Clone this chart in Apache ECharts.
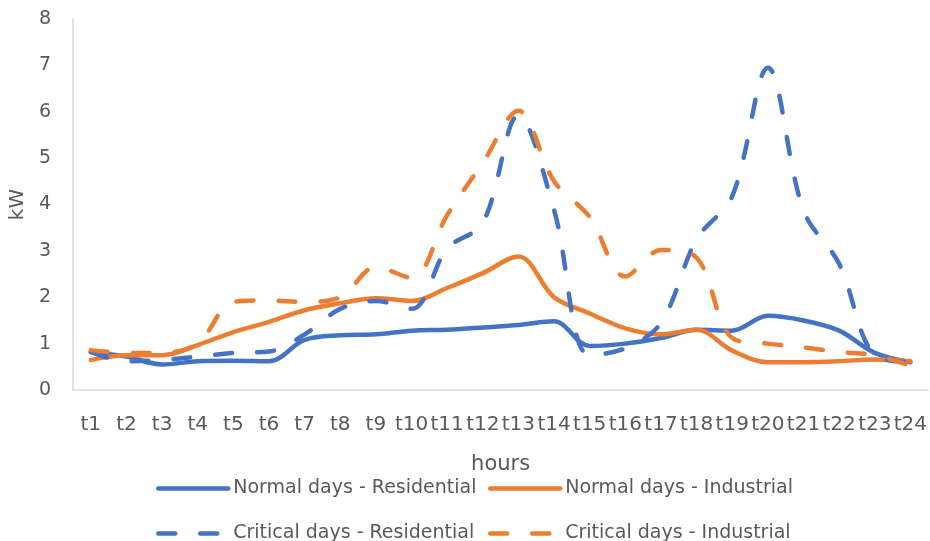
<!DOCTYPE html>
<html>
<head>
<meta charset="utf-8">
<script src="https://cdn.jsdelivr.net/npm/echarts@6/dist/echarts.min.js"></script>
<style>
html,body{margin:0;padding:0;background:#fff;}
#chart{width:930px;height:541px;}
</style>
</head>
<body>
<div id="chart"></div>
<script>
const categories = ['t1','t2','t3','t4','t5','t6','t7','t8','t9','t10','t11','t12','t13','t14','t15','t16','t17','t18','t19','t20','t21','t22','t23','t24'];
const normalResidential = [0.82,0.72,0.55,0.62,0.63,0.62,1.08,1.18,1.2,1.28,1.3,1.35,1.4,1.48,0.95,1.0,1.12,1.3,1.28,1.6,1.5,1.28,0.8,0.6];
const normalIndustrial = [0.65,0.75,0.75,0.97,1.25,1.47,1.72,1.87,1.98,1.92,2.2,2.52,2.88,2.0,1.65,1.33,1.2,1.3,0.85,0.6,0.6,0.62,0.66,0.62];
const criticalResidential = [0.82,0.62,0.65,0.72,0.8,0.83,1.2,1.75,1.92,1.75,3.05,3.6,5.92,3.88,0.75,0.9,1.45,3.25,4.18,6.95,3.87,2.72,0.75,0.6];
const criticalIndustrial = [0.86,0.8,0.8,1.0,1.9,1.93,1.9,2.0,2.65,2.42,3.77,4.9,6.02,4.5,3.73,2.45,3.02,2.85,1.12,1.0,0.92,0.82,0.75,0.52];
const seriesNames = ['Normal days - Residential','Normal days - Industrial','Critical days - Residential','Critical days - Industrial'];

const BLUE = '#4472C4', ORANGE = '#ED7D31', TXT = '#595959', FONT = 'DejaVu Sans';
const DASH = [17, 25];
const chart = echarts.init(document.getElementById('chart'), null, {renderer:'canvas'});

function mkSeries(name, data, color, dashed){
  return {
    name: name, type: 'line', data: data, symbol: 'none', smooth: 0.35, smoothConstraint: false,
    lineStyle: {color: color, width: 4.5, type: dashed ? DASH : 'solid', cap: 'round', join: 'round'},
    itemStyle: {color: color}, emphasis: {disabled: true}, animation: false
  };
}
function mkLegend(name, left, top, color, dashed){
  return {
    data: [name], left: left, top: top, padding: 0, itemWidth: 70, itemHeight: 14, itemGap: 0,
    itemStyle: {opacity: 0},
    lineStyle: {color: color, width: 4.5, type: dashed ? DASH : 'solid', cap: 'round'},
    textStyle: {color: TXT, fontSize: 19, fontFamily: FONT}, selectedMode: false
  };
}

chart.setOption({
  animation: false,
  grid: {left: 72, right: 0, top: 19, bottom: 151, containLabel: false},
  legend: [
    mkLegend(seriesNames[0], 156, 479, BLUE, false),
    mkLegend(seriesNames[1], 488, 479, ORANGE, false),
    mkLegend(seriesNames[2], 156, 524, BLUE, true),
    mkLegend(seriesNames[3], 488, 524, ORANGE, true)
  ],
  xAxis: {
    type: 'category', data: categories, boundaryGap: true,
    name: 'hours', nameLocation: 'middle', nameGap: 64,
    nameTextStyle: {color: TXT, fontSize: 21, fontFamily: FONT},
    axisLine: {show: true, lineStyle: {color: '#D9D9D9', width: 1.5}},
    axisTick: {show: false},
    axisLabel: {interval: 0, margin: 25, color: TXT, fontSize: 20, fontFamily: FONT},
    splitLine: {show: false}
  },
  yAxis: {
    type: 'value', min: 0, max: 8, interval: 1,
    name: 'kW', nameLocation: 'middle', nameGap: 44, nameRotate: 90,
    nameTextStyle: {color: TXT, fontSize: 20, fontFamily: FONT},
    axisLine: {show: true, lineStyle: {color: '#D9D9D9', width: 1.5}},
    axisTick: {show: false},
    axisLabel: {margin: 22, color: TXT, fontSize: 19, fontFamily: FONT},
    splitLine: {show: false}
  },
  series: [
    mkSeries(seriesNames[0], normalResidential, BLUE, false),
    mkSeries(seriesNames[1], normalIndustrial, ORANGE, false),
    mkSeries(seriesNames[2], criticalResidential, BLUE, true),
    mkSeries(seriesNames[3], criticalIndustrial, ORANGE, true)
  ]
});
</script>
</body>
</html>
